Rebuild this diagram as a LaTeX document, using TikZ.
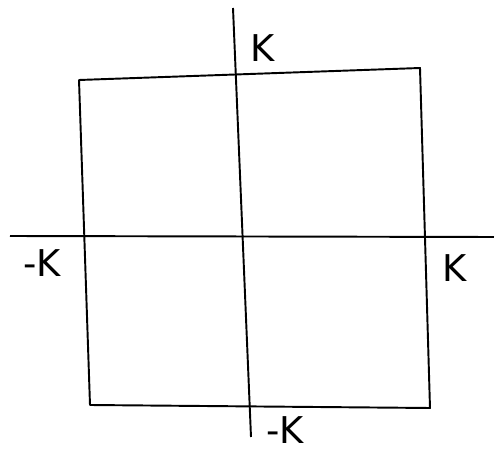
\documentclass[tikz,border=0pt]{standalone}
\usepackage{fontspec}
\setmainfont{DejaVu Sans}
\usetikzlibrary{positioning}
\tikzstyle{edge} = [line width=1.1pt, draw=black, line join=round]
\tikzstyle{bound} = [font=\fontsize{21}{21}\selectfont, inner sep=0pt]

\begin{document}
\begin{tikzpicture}[x=0.02cm, y=-0.02cm]
\useasboundingbox (0,0) rectangle (495,453);

% square corners
\coordinate (tl) at (79,80);
\coordinate (tr) at (420,68);
\coordinate (br) at (430,408);
\coordinate (bl) at (90,405);
% axes ends
\coordinate (xl) at (10,236);
\coordinate (xr) at (494,237);
\coordinate (yt) at (233,8);
\coordinate (yb) at (251,437);

\draw[edge] (tl) -- (tr) -- (br) -- (bl) -- cycle;
\draw[edge] (xl) -- (xr);
\draw[edge] (yt) -- (yb);

\node (ktop) [bound] at (263,48) {K};
\node (kleft) [bound] at (42,263) {-K};
\node (kright) [bound] at (455,268) {K};
\node (kbot) [bound] at (285,430) {-K};
\end{tikzpicture}
\end{document}
